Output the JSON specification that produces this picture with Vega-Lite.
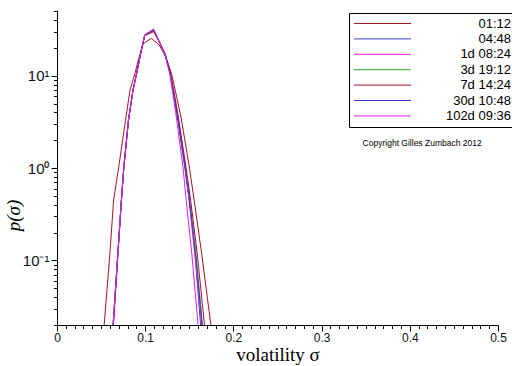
{
  "$schema": "https://vega.github.io/schema/vega-lite/v6.json",
  "width": 441,
  "height": 315,
  "autosize": {"type": "none"},
  "padding": {"left": 57, "top": 10, "right": 14, "bottom": 41},
  "background": "white",
  "config": {"view": {"stroke": null}, "font": "Liberation Sans"},
  "layer": [
    {
      "data": {"values": [
        {"s": "01:12", "x": 0.0535, "p": 0.02}, {"s": "01:12", "x": 0.0600, "p": 0.12}, {"s": "01:12", "x": 0.0642, "p": 0.45}, {"s": "01:12", "x": 0.0700, "p": 1.03}, {"s": "01:12", "x": 0.0777, "p": 3.3}, {"s": "01:12", "x": 0.0828, "p": 7.0}, {"s": "01:12", "x": 0.0884, "p": 10.6}, {"s": "01:12", "x": 0.0930, "p": 15.8}, {"s": "01:12", "x": 0.0979, "p": 22.3}, {"s": "01:12", "x": 0.1070, "p": 25.4}, {"s": "01:12", "x": 0.1160, "p": 21.5}, {"s": "01:12", "x": 0.1230, "p": 16.3}, {"s": "01:12", "x": 0.1300, "p": 10.4}, {"s": "01:12", "x": 0.1357, "p": 5.9}, {"s": "01:12", "x": 0.1410, "p": 3.4}, {"s": "01:12", "x": 0.1500, "p": 1.03}, {"s": "01:12", "x": 0.1555, "p": 0.449}, {"s": "01:12", "x": 0.1640, "p": 0.119}, {"s": "01:12", "x": 0.1745, "p": 0.02},

        {"s": "04:48", "x": 0.0635, "p": 0.02}, {"s": "04:48", "x": 0.0690, "p": 0.119}, {"s": "04:48", "x": 0.0730, "p": 0.45}, {"s": "04:48", "x": 0.0758, "p": 1.03}, {"s": "04:48", "x": 0.0810, "p": 3.3}, {"s": "04:48", "x": 0.0862, "p": 7.0}, {"s": "04:48", "x": 0.0903, "p": 10.6}, {"s": "04:48", "x": 0.0955, "p": 18.8}, {"s": "04:48", "x": 0.0995, "p": 27.6}, {"s": "04:48", "x": 0.1095, "p": 31.0}, {"s": "04:48", "x": 0.1168, "p": 22.4}, {"s": "04:48", "x": 0.1225, "p": 17.0}, {"s": "04:48", "x": 0.1280, "p": 10.8}, {"s": "04:48", "x": 0.1333, "p": 5.5}, {"s": "04:48", "x": 0.1372, "p": 3.3}, {"s": "04:48", "x": 0.1450, "p": 1.03}, {"s": "04:48", "x": 0.1500, "p": 0.449}, {"s": "04:48", "x": 0.1565, "p": 0.119}, {"s": "04:48", "x": 0.1628, "p": 0.02},

        {"s": "1d 08:24", "x": 0.0638, "p": 0.02}, {"s": "1d 08:24", "x": 0.0690, "p": 0.119}, {"s": "1d 08:24", "x": 0.0730, "p": 0.45}, {"s": "1d 08:24", "x": 0.0758, "p": 1.03}, {"s": "1d 08:24", "x": 0.0810, "p": 3.3}, {"s": "1d 08:24", "x": 0.0862, "p": 7.0}, {"s": "1d 08:24", "x": 0.0903, "p": 10.6}, {"s": "1d 08:24", "x": 0.0955, "p": 18.8}, {"s": "1d 08:24", "x": 0.0995, "p": 27.6}, {"s": "1d 08:24", "x": 0.1095, "p": 31.8}, {"s": "1d 08:24", "x": 0.1168, "p": 22.4}, {"s": "1d 08:24", "x": 0.1225, "p": 17.0}, {"s": "1d 08:24", "x": 0.1280, "p": 10.8}, {"s": "1d 08:24", "x": 0.1333, "p": 5.5}, {"s": "1d 08:24", "x": 0.1372, "p": 3.3}, {"s": "1d 08:24", "x": 0.1448, "p": 1.03}, {"s": "1d 08:24", "x": 0.1497, "p": 0.449}, {"s": "1d 08:24", "x": 0.1562, "p": 0.119}, {"s": "1d 08:24", "x": 0.1640, "p": 0.02},

        {"s": "3d 19:12", "x": 0.0636, "p": 0.02}, {"s": "3d 19:12", "x": 0.0690, "p": 0.119}, {"s": "3d 19:12", "x": 0.0730, "p": 0.45}, {"s": "3d 19:12", "x": 0.0758, "p": 1.03}, {"s": "3d 19:12", "x": 0.0810, "p": 3.3}, {"s": "3d 19:12", "x": 0.0862, "p": 7.0}, {"s": "3d 19:12", "x": 0.0903, "p": 10.6}, {"s": "3d 19:12", "x": 0.0955, "p": 18.8}, {"s": "3d 19:12", "x": 0.0995, "p": 27.4}, {"s": "3d 19:12", "x": 0.1095, "p": 30.5}, {"s": "3d 19:12", "x": 0.1168, "p": 22.4}, {"s": "3d 19:12", "x": 0.1225, "p": 17.0}, {"s": "3d 19:12", "x": 0.1282, "p": 10.9}, {"s": "3d 19:12", "x": 0.1335, "p": 5.6}, {"s": "3d 19:12", "x": 0.1375, "p": 3.3}, {"s": "3d 19:12", "x": 0.1455, "p": 1.03}, {"s": "3d 19:12", "x": 0.1505, "p": 0.449}, {"s": "3d 19:12", "x": 0.1575, "p": 0.119}, {"s": "3d 19:12", "x": 0.1650, "p": 0.02},

        {"s": "7d 14:24", "x": 0.0640, "p": 0.02}, {"s": "7d 14:24", "x": 0.0692, "p": 0.119}, {"s": "7d 14:24", "x": 0.0731, "p": 0.45}, {"s": "7d 14:24", "x": 0.0759, "p": 1.03}, {"s": "7d 14:24", "x": 0.0811, "p": 3.3}, {"s": "7d 14:24", "x": 0.0862, "p": 7.0}, {"s": "7d 14:24", "x": 0.0903, "p": 10.6}, {"s": "7d 14:24", "x": 0.0955, "p": 18.6}, {"s": "7d 14:24", "x": 0.0995, "p": 27.2}, {"s": "7d 14:24", "x": 0.1095, "p": 30.0}, {"s": "7d 14:24", "x": 0.1168, "p": 22.6}, {"s": "7d 14:24", "x": 0.1228, "p": 17.2}, {"s": "7d 14:24", "x": 0.1285, "p": 11.0}, {"s": "7d 14:24", "x": 0.1340, "p": 5.7}, {"s": "7d 14:24", "x": 0.1380, "p": 3.4}, {"s": "7d 14:24", "x": 0.1462, "p": 1.03}, {"s": "7d 14:24", "x": 0.1515, "p": 0.449}, {"s": "7d 14:24", "x": 0.1590, "p": 0.119}, {"s": "7d 14:24", "x": 0.1672, "p": 0.02},

        {"s": "30d 10:48", "x": 0.0636, "p": 0.02}, {"s": "30d 10:48", "x": 0.0690, "p": 0.119}, {"s": "30d 10:48", "x": 0.0730, "p": 0.45}, {"s": "30d 10:48", "x": 0.0758, "p": 1.03}, {"s": "30d 10:48", "x": 0.0810, "p": 3.3}, {"s": "30d 10:48", "x": 0.0862, "p": 7.0}, {"s": "30d 10:48", "x": 0.0903, "p": 10.6}, {"s": "30d 10:48", "x": 0.0955, "p": 18.8}, {"s": "30d 10:48", "x": 0.0995, "p": 27.6}, {"s": "30d 10:48", "x": 0.1095, "p": 31.4}, {"s": "30d 10:48", "x": 0.1168, "p": 22.4}, {"s": "30d 10:48", "x": 0.1225, "p": 17.0}, {"s": "30d 10:48", "x": 0.1281, "p": 10.8}, {"s": "30d 10:48", "x": 0.1334, "p": 5.5}, {"s": "30d 10:48", "x": 0.1373, "p": 3.3}, {"s": "30d 10:48", "x": 0.1452, "p": 1.03}, {"s": "30d 10:48", "x": 0.1503, "p": 0.449}, {"s": "30d 10:48", "x": 0.1570, "p": 0.119}, {"s": "30d 10:48", "x": 0.1645, "p": 0.02},

        {"s": "102d 09:36", "x": 0.0637, "p": 0.02}, {"s": "102d 09:36", "x": 0.0690, "p": 0.119}, {"s": "102d 09:36", "x": 0.0730, "p": 0.45}, {"s": "102d 09:36", "x": 0.0758, "p": 1.03}, {"s": "102d 09:36", "x": 0.0810, "p": 3.3}, {"s": "102d 09:36", "x": 0.0862, "p": 7.0}, {"s": "102d 09:36", "x": 0.0903, "p": 10.6}, {"s": "102d 09:36", "x": 0.0955, "p": 18.9}, {"s": "102d 09:36", "x": 0.0995, "p": 27.8}, {"s": "102d 09:36", "x": 0.1095, "p": 32.0}, {"s": "102d 09:36", "x": 0.1168, "p": 22.6}, {"s": "102d 09:36", "x": 0.1225, "p": 16.8}, {"s": "102d 09:36", "x": 0.1278, "p": 10.5}, {"s": "102d 09:36", "x": 0.1325, "p": 5.4}, {"s": "102d 09:36", "x": 0.1358, "p": 3.3}, {"s": "102d 09:36", "x": 0.1428, "p": 1.03}, {"s": "102d 09:36", "x": 0.1465, "p": 0.449}, {"s": "102d 09:36", "x": 0.1528, "p": 0.119}, {"s": "102d 09:36", "x": 0.1600, "p": 0.02}
      ]},
      "mark": {"type": "line", "clip": true, "strokeWidth": 1, "interpolate": "linear"},
      "encoding": {
        "x": {
          "field": "x", "type": "quantitative",
          "scale": {"domain": [0, 0.5], "nice": false, "zero": false},
          "axis": {
            "values": [0,0.01,0.02,0.03,0.04,0.05,0.06,0.07,0.08,0.09,0.1,0.11,0.12,0.13,0.14,0.15,0.16,0.17,0.18,0.19,0.2,0.21,0.22,0.23,0.24,0.25,0.26,0.27,0.28,0.29,0.3,0.31,0.32,0.33,0.34,0.35,0.36,0.37,0.38,0.39,0.4,0.41,0.42,0.43,0.44,0.45,0.46,0.47,0.48,0.49,0.5],
            "tickCount": 200,
            "labelExpr": "abs(datum.value*10-round(datum.value*10))<0.000001 ? (datum.value==0 ? '0' : format(datum.value,'.1f')) : ''",
            "tickSize": {"condition": {"test": "abs(datum.value*10-round(datum.value*10))<0.000001", "value": 6}, "value": 3.5},
            "labelFontSize": 12, "labelFont": "Liberation Sans", "labelColor": "#111", "labelPadding": 1,
            "labelOverlap": false, "labelBound": false, "labelFlush": false,
            "grid": false, "domainColor": "black", "tickColor": "black",
            "title": "volatility   σ", "titleFont": "Liberation Serif", "titleFontSize": 19, "titleFontWeight": "normal", "titleColor": "black",
            "titleBaseline": "alphabetic", "titleY": 35
          }
        },
        "y": {
          "field": "p", "type": "quantitative",
          "scale": {"type": "log", "domain": [0.02, 51.5], "nice": false},
          "axis": {
            "values": [0.02,0.03,0.04,0.05,0.06,0.07,0.08,0.09,0.1,0.2,0.3,0.4,0.5,0.6,0.7,0.8,0.9,1,2,3,4,5,6,7,8,9,10,20,30,40,50],
            "tickCount": 200,
            "labelExpr": "datum.value==10 ? '10¹' : datum.value==1 ? '10⁰' : datum.value==0.1 ? '10⁻¹' : ''",
            "tickSize": {"condition": {"test": "datum.value==0.1||datum.value==1||datum.value==10", "value": 6}, "value": 3.5},
            "labelFontSize": 15, "labelFont": "Liberation Sans", "labelColor": "#111", "labelPadding": 2,
            "labelOverlap": false, "labelBound": false, "labelFlush": false,
            "grid": false, "domainColor": "black", "tickColor": "black",
            "title": "p(σ)", "titleFont": "Liberation Serif", "titleFontSize": 19, "titleFontWeight": "normal", "titleFontStyle": "italic", "titleColor": "black",
            "titleAngle": 270, "titleAlign": "center", "titleBaseline": "middle", "titleX": -44, "titleY": 205
          }
        },
        "color": {
          "field": "s", "type": "nominal",
          "scale": {
            "domain": ["01:12", "04:48", "1d 08:24", "3d 19:12", "7d 14:24", "30d 10:48", "102d 09:36"],
            "range": ["#a8102c", "#3c3cc8", "#e020e0", "#20b020", "#a8102c", "#3c3cc8", "#e020e0"]
          },
          "legend": {
            "title": null, "orient": "none", "legendX": 292, "legendY": 3,
            "symbolType": "M-5.7,0H5.7", "symbolSize": 100, "symbolStrokeWidth": 1, "symbolOffset": 23,
            "labelFontSize": 13, "labelFont": "Liberation Sans", "labelColor": "black",
            "labelAlign": "right", "labelOffset": 122, "labelLimit": 300,
            "strokeColor": "black", "fillColor": "white", "padding": 4, "rowPadding": 1.4
          }
        }
      }
    },
    {
      "data": {"values": [{"t": "Copyright Gilles Zumbach 2012"}]},
      "mark": {"type": "text", "fontSize": 8.5, "font": "Liberation Sans", "align": "center", "baseline": "middle", "color": "black"},
      "encoding": {
        "x": {"datum": 0.414},
        "y": {"datum": 1.86},
        "text": {"field": "t"}
      }
    }
  ]
}
